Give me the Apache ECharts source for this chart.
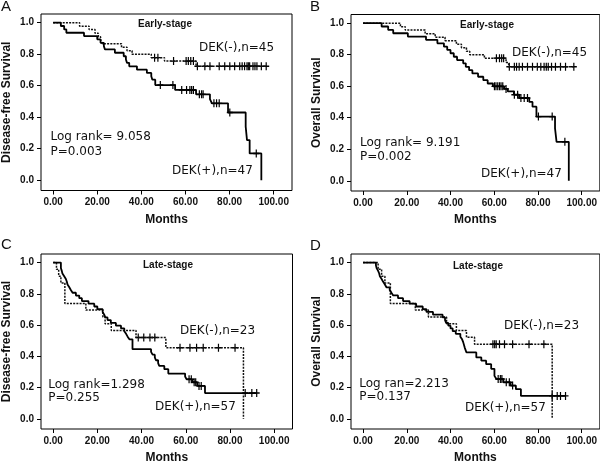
<!DOCTYPE html>
<html>
<head>
<meta charset="utf-8">
<script src="https://cdn.jsdelivr.net/npm/echarts@6/dist/echarts.min.js"></script>
<style>
  html, body { margin: 0; padding: 0; background: #fff; }
  #chart { width: 600px; height: 465px; }
</style>
</head>
<body>
<div id="chart"></div>
<script>
const xTicks = [0, 20, 40, 60, 80, 100];
const yTicks = [0, 0.2, 0.4, 0.6, 0.8, 1.0];

// A: early-stage, disease-free survival
const aPos = [[0,1],[3.5,0.979],[5,0.957],[6,0.936],[14,0.915],[20,0.894],[21.5,0.872],[23,0.851],[23.5,0.83],[28,0.809],[32,0.787],[33,0.766],[33.5,0.745],[34.5,0.723],[38,0.702],[42.5,0.681],[44.5,0.66],[45,0.638],[46.3,0.604],[55.3,0.573],[64.8,0.545],[71.1,0.515],[72,0.488],[79.3,0.43],[87.3,0.34],[87.9,0.255],[89.1,0.17],[94.4,0]];
const aPosCens = [48.6, 54.3, 58.3, 60.5, 62, 62.8, 63.6, 66.3, 67.3, 68, 72.9, 74.1, 75.3, 80.1, 92.1];
const aNeg = [[0,1],[12,0.978],[16.3,0.956],[19,0.933],[20.5,0.911],[21.5,0.889],[22.3,0.867],[31,0.844],[33.5,0.822],[35.8,0.8],[44.5,0.778],[50.5,0.756],[64.8,0.724]];
const aNegCens = [46, 47.5, 54.6, 60.3, 61.3, 62.4, 63.6, 65.4, 68.8, 71.1, 75.3, 77.8, 80.1, 82.3, 84.6, 85.7, 86.8, 87.9, 88.5, 89.1, 90.6, 91.5, 92.4, 94.4, 96.6];

// B: early-stage, overall survival
const bPos = [[0,1],[8.5,0.979],[11.5,0.957],[13.8,0.936],[20.5,0.915],[28.8,0.894],[34,0.872],[37,0.851],[38.5,0.83],[40,0.809],[41.5,0.787],[43,0.766],[45.8,0.745],[47,0.723],[48.5,0.702],[50,0.681],[52.6,0.66],[55,0.638],[57,0.617],[59.4,0.599],[64.5,0.583],[66.2,0.567],[69,0.546],[71.4,0.525],[76,0.5],[77.5,0.47],[79.3,0.407],[87.8,0.332],[88.5,0.247],[94.1,0]];
const bPosCens = [60.1, 60.8, 61.6, 62.4, 63.1, 63.9, 65.4, 69.2, 70.7, 72.2, 73.7, 75.2, 80.2, 86.5, 92.3];
const bNeg = [[0,1],[17.1,0.978],[19.3,0.956],[28.4,0.933],[33,0.911],[37.5,0.889],[42.7,0.867],[45,0.844],[47.3,0.822],[48.8,0.8],[55.5,0.778],[65.4,0.75],[66.6,0.723]];
const bNegCens = [61, 62.4, 63.4, 64.3, 66.9, 69.2, 70.2, 71.4, 72.9, 75.2, 77.5, 79.7, 81.3, 82.8, 83.8, 84.7, 86.2, 88, 90.3, 92.6, 96.4];

// C: late-stage, disease-free survival
const cPos = [[0,1],[3.5,0.965],[3.9,0.947],[4.2,0.93],[5,0.912],[5.75,0.895],[6.2,0.877],[6.5,0.86],[7.3,0.842],[8,0.825],[8.8,0.807],[10.3,0.789],[11.8,0.772],[13,0.754],[16,0.737],[18.6,0.719],[20,0.702],[22.4,0.684],[23.1,0.667],[23.6,0.649],[24.6,0.632],[26.1,0.614],[28.4,0.596],[30.7,0.579],[32.2,0.561],[33,0.544],[33.7,0.526],[34.5,0.509],[35.9,0.446],[44.3,0.429],[45,0.411],[46,0.393],[46.5,0.375],[47.5,0.357],[48,0.339],[50.3,0.318],[52.1,0.29],[59.7,0.271],[60.4,0.253],[63,0.234],[65.2,0.211],[68.7,0.165]];
const cPosCens = [61.5, 62.5, 63.8, 64.5, 66, 67, 86.9, 89.9, 92.1];
const cNeg = [[0,1],[1.5,0.957],[2.5,0.913],[3.5,0.87],[5.3,0.739],[14.8,0.696],[22.5,0.652],[23.5,0.609],[26.3,0.565],[37.5,0.52],[51,0.455],[86.1,0]];
const cNegCens = [38.5, 41, 43.8, 46, 57.4, 61.9, 64.9, 67.9, 74.8, 82.3];

// D: late-stage, overall survival
const dPos = [[0,1],[5.9,0.982],[6.2,0.965],[6.9,0.947],[7.4,0.93],[7.7,0.912],[8.5,0.895],[9.2,0.877],[10,0.86],[10.7,0.842],[12.2,0.825],[13,0.807],[13.8,0.79],[16,0.772],[18.3,0.754],[21.3,0.737],[24.3,0.719],[27.3,0.702],[29,0.684],[32,0.667],[36.4,0.649],[37.5,0.632],[38,0.614],[39,0.596],[40,0.579],[41,0.561],[42.4,0.544],[44.5,0.526],[45.3,0.509],[45.8,0.491],[46.5,0.456],[47.3,0.425],[51.8,0.393],[54.1,0.372],[56.3,0.35],[58.6,0.32],[60.1,0.275],[61,0.255],[64.2,0.234],[67.5,0.213],[69.9,0.19],[72.2,0.147]];
const dPosCens = [61.8, 62.8, 63.5, 65.5, 66.9, 68.4, 86.5, 88.8, 90.3, 92.6];
const dNeg = [[0,1],[6.9,0.957],[8.5,0.913],[10,0.87],[12.5,0.739],[23.9,0.696],[29.9,0.652],[38.2,0.609],[42.7,0.565],[47.3,0.522],[51,0.478],[86.5,0]];
const dNegCens = [59.4, 60.2, 60.9, 62.4, 64.7, 68.4, 75.9, 82.7];

const panels = [
  { letter: "A", letterAt: [1, 7], yName: "Disease-free Survival", stage: "Early-stage",
    grid: { left: 40, top: 14 }, pos: aPos, posCens: aPosCens, neg: aNeg, negCens: aNegCens,
    titleAt: [165, 24], negLabel: ["DEK(-),n=45", 199, 47.5], posLabel: ["DEK(+),n=47", 172, 171],
    stat: ["Log rank= 9.058", "P=0.003"], statAt: [50.5, 137, 152] },
  { letter: "B", letterAt: [310, 7], yName: "Overall Survival", stage: "Early-stage",
    grid: { left: 351, top: 14.5 }, pos: bPos, posCens: bPosCens, neg: bNeg, negCens: bNegCens,
    titleAt: [487, 25], negLabel: ["DEK(-),n=45", 512, 52.5], posLabel: ["DEK(+),n=47", 481, 174],
    stat: ["Log rank= 9.191", "P=0.002"], statAt: [360, 143, 157] },
  { letter: "C", letterAt: [1, 245], yName: "Disease-free Survival", stage: "Late-stage",
    grid: { left: 40.5, top: 254 }, pos: cPos, posCens: cPosCens, neg: cNeg, negCens: cNegCens,
    titleAt: [168, 265], negLabel: ["DEK(-),n=23", 180, 331], posLabel: ["DEK(+),n=57", 155, 407],
    stat: ["Log rank=1.298", "P=0.255"], statAt: [48.3, 385, 397.5] },
  { letter: "D", letterAt: [310, 246], yName: "Overall Survival", stage: "Late-stage",
    grid: { left: 351, top: 254 }, pos: dPos, posCens: dPosCens, neg: dNeg, negCens: dNegCens,
    titleAt: [478, 266], negLabel: ["DEK(-),n=23", 504, 326], posLabel: ["DEK(+),n=57", 465, 407.5],
    stat: ["Log ran=2.213", "P=0.137"], statAt: [359.3, 383.5, 396.7] },
];

const cross = "path://M0,4.1H10V5.9H0Z M4,0H6V10H4Z";
const ink = "#111";

function survivalAt(steps, t) {
  let s = 1;
  for (const [time, v] of steps) if (time <= t) s = v;
  return s;
}

function curve(steps, cens) {
  const data = steps.slice();
  const last = cens[cens.length - 1];
  if (last > data[data.length - 1][0]) data.push([last, survivalAt(steps, last)]);
  return data;
}

const grids = [], xAxes = [], yAxes = [], series = [], graphics = [];

panels.forEach((p, i) => {
  grids.push({ left: p.grid.left, top: p.grid.top, width: 252, height: 176.5,
    show: true, borderColor: "#000", borderWidth: 1 });

  xAxes.push({
    gridIndex: i, type: "value", min: -5.5, max: 108.3,
    axisLine: { show: false, onZero: false },
    splitLine: { show: false },
    axisTick: { show: true, length: 4, customValues: xTicks, lineStyle: { color: "#000" } },
    axisLabel: { customValues: xTicks, formatter: (v) => v.toFixed(2), fontSize: 10,
      fontWeight: "bold", fontFamily: "Liberation Sans", color: ink, margin: 7 },
    name: "Months", nameLocation: "middle", nameGap: 23,
    nameTextStyle: { fontSize: 12, fontWeight: "bold", fontFamily: "Liberation Sans", color: ink },
  });

  yAxes.push({
    gridIndex: i, type: "value", min: -0.065, max: 1.055,
    axisLine: { show: false, onZero: false },
    splitLine: { show: false },
    axisTick: { show: true, length: 4, customValues: yTicks, lineStyle: { color: "#000" } },
    axisLabel: { customValues: yTicks, formatter: (v) => v.toFixed(1), fontSize: 10,
      fontWeight: "bold", fontFamily: "Liberation Sans", color: ink, margin: 7 },
    name: p.yName, nameLocation: "middle", nameGap: 28,
    nameTextStyle: { fontSize: 12, fontWeight: "bold", fontFamily: "Liberation Sans", color: ink },
  });

  series.push(
    { type: "line", xAxisIndex: i, yAxisIndex: i, step: "end", symbol: "none", silent: true,
      data: curve(p.neg, p.negCens), lineStyle: { color: "#111", width: 1.5, type: [2, 1.2] } },
    { type: "line", xAxisIndex: i, yAxisIndex: i, step: "end", symbol: "none", silent: true,
      data: curve(p.pos, p.posCens), lineStyle: { color: "#000", width: 1.8 } },
    { type: "scatter", xAxisIndex: i, yAxisIndex: i, symbol: cross, symbolSize: [6, 8], silent: true,
      data: p.negCens.map((t) => [t, survivalAt(p.neg, t)]), itemStyle: { color: "#000", opacity: 1 } },
    { type: "scatter", xAxisIndex: i, yAxisIndex: i, symbol: cross, symbolSize: [6, 8], silent: true,
      data: p.posCens.map((t) => [t, survivalAt(p.pos, t)]), itemStyle: { color: "#000", opacity: 1 } },
  );

  const txt = (text, x, y, font, align) => ({
    type: "text", x, y, silent: true,
    style: { text, font, fill: ink, textAlign: align || "left", textVerticalAlign: "middle", verticalAlign: "middle" },
  });
  const body = '12px "DejaVu Sans"';
  graphics.push(
    txt(p.letter, p.letterAt[0], p.letterAt[1], '15px "Liberation Sans"'),
    txt(p.stage, p.titleAt[0], p.titleAt[1], 'bold 10px "Liberation Sans"', "center"),
    txt(p.negLabel[0], p.negLabel[1], p.negLabel[2], body),
    txt(p.posLabel[0], p.posLabel[1], p.posLabel[2], body),
    txt(p.stat[0], p.statAt[0], p.statAt[1], body),
    txt(p.stat[1], p.statAt[0], p.statAt[2], body),
  );
});

const chart = echarts.init(document.getElementById("chart"));
chart.setOption({
  animation: false,
  backgroundColor: "#fff",
  grid: grids,
  xAxis: xAxes,
  yAxis: yAxes,
  series: series,
  graphic: graphics,
});
</script>
</body>
</html>
